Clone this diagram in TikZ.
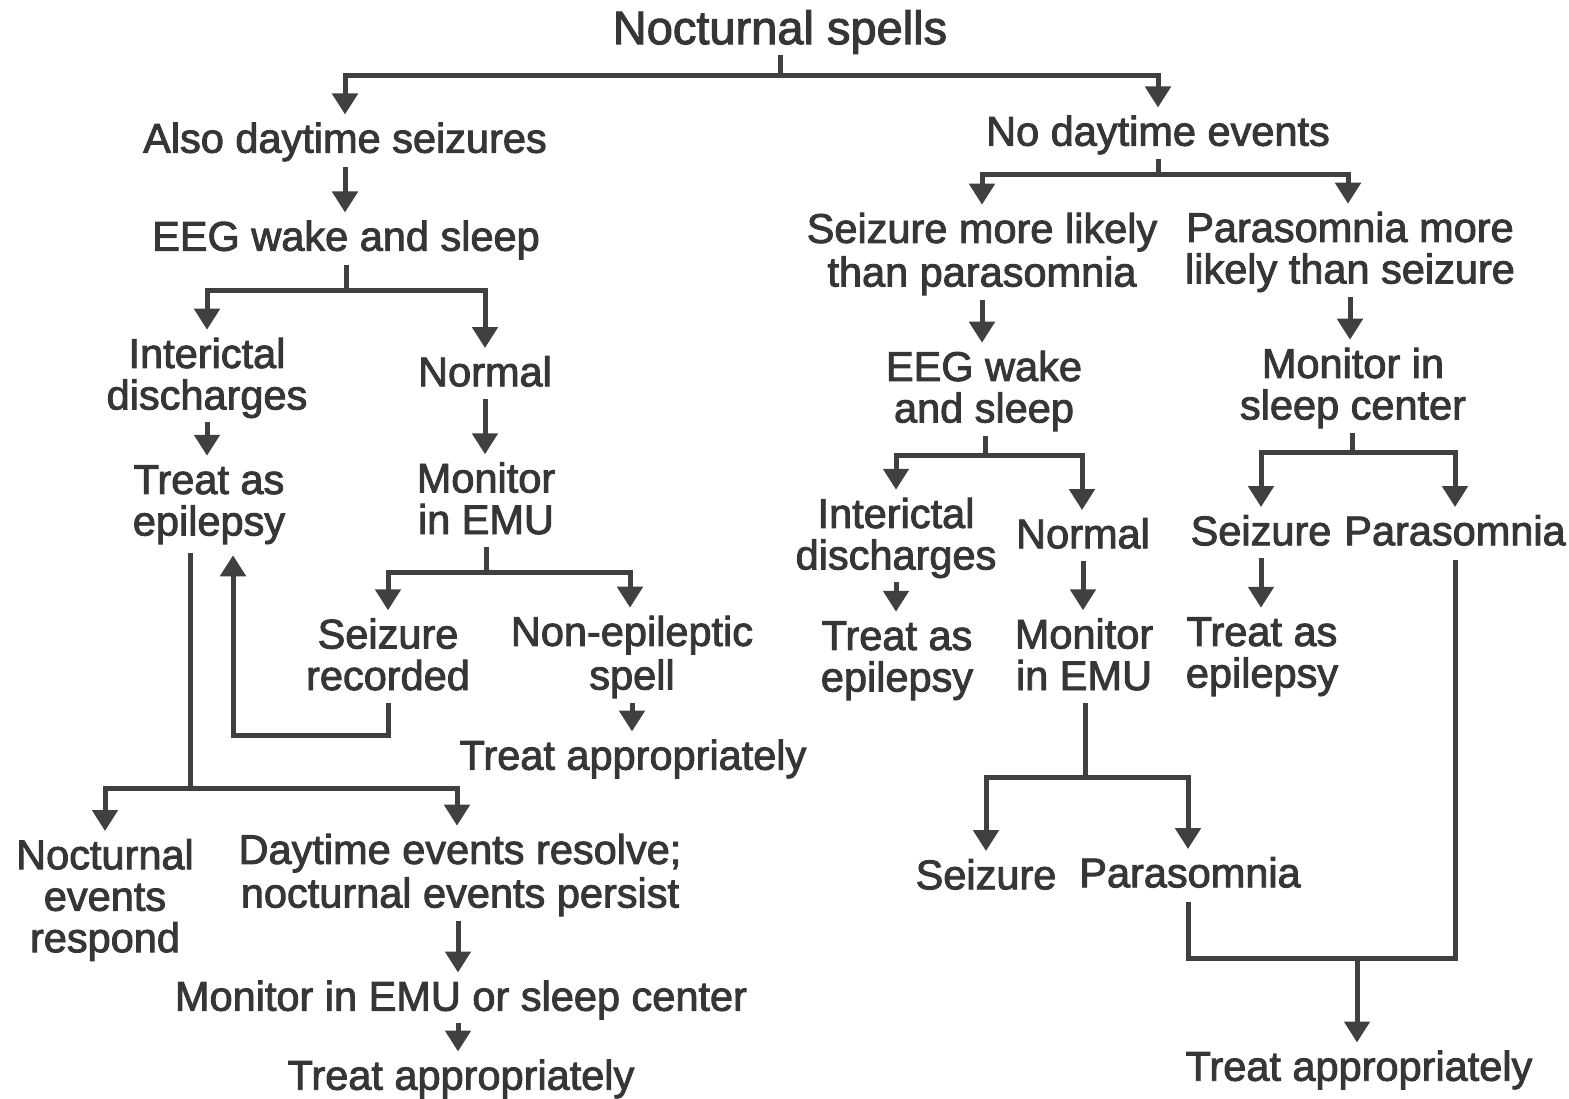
\documentclass[tikz,border=0pt]{standalone}
\usepackage{fontspec}
\setmainfont{Liberation Sans}[FakeBold=2.2]
\usetikzlibrary{arrows.meta}
\definecolor{ink}{HTML}{363636}
\definecolor{wire}{HTML}{404040}
\newcommand\ls{\vrule height 34pt depth 7.5pt width 0pt}
\begin{document}
\begin{tikzpicture}[x=1pt,y=-1pt,
  txt/.style={inner sep=0pt, align=center, text=ink, font=\fontsize{41.5}{41.5}\selectfont},
  ln/.style={draw=wire, line width=5pt},
  arr/.style={ln, -{Triangle[width=25pt,length=21pt]}, shorten >=4pt, shorten <=5pt}]
\fill[white] (0,0) rectangle (1569,1098);
\useasboundingbox (0,0) rectangle (1569,1098);

% ---------- nodes: left
\node[txt, font=\fontsize{47}{47}\selectfont] (title) at (780,30) {\vrule height 38pt depth 8.5pt width 0pt Nocturnal spells};
\node[txt] (ads) at (345,140) {\ls Also daytime seizures};
\node[txt] (ews) at (346,238) {\ls EEG wake and sleep};
\node[txt] (ic1) at (207,376) {\ls Interictal\\\ls discharges};
\node[txt] (nor1) at (485,373) {\ls Normal};
\node[txt] (tae1) at (209,502) {\ls Treat as\\\ls epilepsy};
\node[txt] (mem1) at (486,500) {\ls Monitor\\\ls in EMU};
\node[txt] (sr) at (388,656) {\ls Seizure\\\ls recorded};
\node[txt] (nes) at (632,655) {\ls Non-epileptic\\\ls spell};
\node[txt] (ta1) at (633,757) {\ls Treat appropriately};
\node[txt] (ner) at (105,898) {\ls Nocturnal\\\ls events\\\ls respond};
\node[txt] (der) at (460,873) {\ls Daytime events resolve;\\\ls nocturnal events persist};
\node[txt] (mes) at (461,998) {\ls Monitor in EMU or sleep center};
\node[txt] (ta2) at (461,1077) {\ls Treat appropriately};

% ---------- nodes: right
\node[txt] (nde) at (1158,133) {\ls No daytime events};
\node[txt] (sml) at (982,252) {\ls Seizure more likely\\\ls than parasomnia};
\node[txt] (pml) at (1350,250) {\ls Parasomnia more\\\ls likely than seizure};
\node[txt] (ews2) at (984,389) {\ls EEG wake\\\ls and sleep};
\node[txt] (msc) at (1353,386) {\ls Monitor in\\\ls sleep center};
\node[txt] (ic2) at (896,536) {\ls Interictal\\\ls discharges};
\node[txt] (nor2) at (1083,535) {\ls Normal};
\node[txt] (sz1) at (1261,532) {\ls Seizure};
\node[txt] (par1) at (1455,532) {\ls Parasomnia};
\node[txt] (tae2) at (897,658) {\ls Treat as\\\ls epilepsy};
\node[txt] (mem2) at (1084,656) {\ls Monitor\\\ls in EMU};
\node[txt] (tae3) at (1262,654) {\ls Treat as\\\ls epilepsy};
\node[txt] (sz2) at (986,876) {\ls Seizure};
\node[txt] (par2) at (1190,874) {\ls Parasomnia};
\node[txt] (ta3) at (1359,1068) {\ls Treat appropriately};

% ---------- junction points
\coordinate (b0) at (780,75);
\coordinate (b1) at (346,290);
\coordinate (b2) at (486,572);
\coordinate (r1) at (233,735);
\coordinate (b3) at (190,788);
\coordinate (b4) at (1158,174);
\coordinate (b5) at (985,455);
\coordinate (b6) at (1352,452);
\coordinate (b7) at (1085,777);
\coordinate (b8) at (1357,958);

% ---------- connectors: left
\draw[ln, shorten <=1pt] (title.south) -- (title.south |- b0);
\draw[arr, shorten <=0pt] (b0) -| (ads.north);
\draw[arr, shorten <=0pt] (b0) -| (nde.north);

\draw[arr] (ads.south) -- (ads.south |- ews.north);
\draw[ln, shorten <=5pt] (ews.south) -- (ews.south |- b1);
\draw[arr, shorten <=0pt] (ews.south |- b1) -| (ic1.north);
\draw[arr, shorten <=0pt] (ews.south |- b1) -| (nor1.north);

\draw[arr, shorten <=4pt] (ic1.south) -- (ic1.south |- tae1.north);
\draw[arr] (nor1.south) -- (nor1.south |- mem1.north);

\draw[ln, shorten <=5pt] (mem1.south) -- (mem1.south |- b2);
\draw[arr, shorten <=0pt] (mem1.south |- b2) -| (sr.north);
\draw[arr, shorten <=0pt] (mem1.south |- b2) -| ([xshift=-2pt]nes.north);

\draw[arr, shorten >=11pt] (sr.south) |- (r1) -- (r1 |- tae1.south);
\draw[arr] (nes.south) -- (nes.south |- ta1.north);

\draw[ln, shorten <=9pt] (b3 |- tae1.south) -- (b3);
\draw[arr, shorten <=0pt] (b3) -| (ner.north);
\draw[arr, shorten <=0pt] (b3) -| ([xshift=-3pt]der.north);
\draw[arr] ([xshift=-2pt]der.south) -- ([xshift=-2pt]der.south |- mes.north);
\draw[arr, shorten <=3pt] ([xshift=-3pt]mes.south) -- ([xshift=-3pt]mes.south |- ta2.north);

% ---------- connectors: right
\draw[ln, shorten <=4pt] (nde.south) -- (nde.south |- b4);
\draw[arr, shorten <=0pt] (b4) -| (sml.north);
\draw[arr, shorten <=0pt] (b4) -| ([xshift=-2pt]pml.north);

\draw[arr] (sml.south) -- (sml.south |- ews2.north);
\draw[arr] (pml.south) -- (pml.south |- msc.north);

\draw[ln, shorten <=5pt] (ews2.south -| b5) -- (b5);
\draw[arr, shorten <=0pt] (b5) -| (ic2.north);
\draw[arr, shorten <=0pt] (b5) -| ([xshift=-1pt]nor2.north);

\draw[ln, shorten <=5pt] (msc.south -| b6) -- (b6);
\draw[arr, shorten <=0pt] (b6) -| (sz1.north);
\draw[arr, shorten <=0pt] (b6) -| (par1.north);

\draw[arr, shorten <=4pt] (ic2.south) -- (ic2.south |- tae2.north);
\draw[arr] (nor2.south) -- (nor2.south |- mem2.north);
\draw[arr] (sz1.south) -- (sz1.south |- tae3.north);

\draw[ln, shorten <=5pt] (mem2.south -| b7) -- (b7);
\draw[arr, shorten <=0pt] (b7) -| (sz2.north);
\draw[arr, shorten <=0pt] (b7) -| ([xshift=-2pt]par2.north);

\draw[ln, shorten <=7pt, shorten >=7pt] ([xshift=-2pt]par2.south) |- (par1.south |- b8) -- (par1.south);
\draw[arr, shorten <=0pt] (b8) -- (b8 |- ta3.north);
\end{tikzpicture}
\end{document}
